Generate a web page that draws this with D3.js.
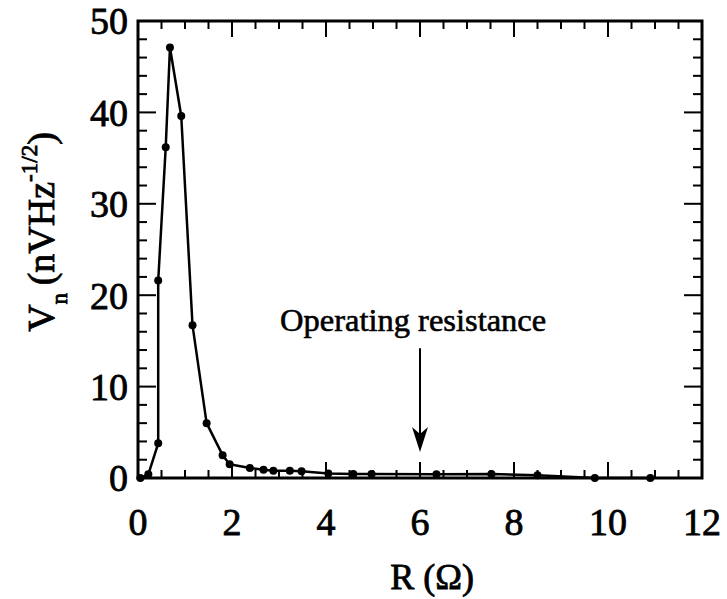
<!DOCTYPE html>
<html>
<head>
<meta charset="utf-8">
<script src="https://cdn.jsdelivr.net/npm/d3@7"></script>
<style>
  html, body { margin: 0; padding: 0; background: #fff; }
  svg { display: block; }
  text { font-family: "Liberation Serif", "Times New Roman", serif; fill: #000; }
</style>
</head>
<body>
<svg id="chart" width="727" height="599"></svg>
<script>
// ---- data ----
const resistance = [0.05, 0.22, 0.43, 0.43, 0.59, 0.68, 0.92, 1.16, 1.46, 1.80, 1.95, 2.38, 2.67, 2.88, 3.23, 3.48, 4.05, 4.58, 4.97, 6.35, 7.52, 8.5, 9.72, 10.9];
const noise      = [0.0, 0.4, 3.8, 21.6, 36.2, 47.1, 39.6, 16.7, 6.0, 2.5, 1.5, 1.1, 0.9, 0.8, 0.8, 0.75, 0.5, 0.45, 0.45, 0.4, 0.45, 0.3, 0.0, 0.0];
const xTickLabels = [0, 2, 4, 6, 8, 10, 12];
const yTickLabels = [0, 10, 20, 30, 40, 50];
const xMinorTicks = d3.range(0, 12.01, 0.5);
const yMinorTicks = d3.range(0, 50.01, 2);
const operatingR = 6;
const annotation = "Operating resistance";

// ---- layout ----
const svg = d3.select("#chart");
const m = { left: 138, top: 21, right: 702, bottom: 478 };
const x = d3.scaleLinear().domain([0, 12]).range([m.left, m.right]);
const y = d3.scaleLinear().domain([0, 50]).range([m.bottom, m.top]);

const isMajorX = v => Math.abs(v / 2 - Math.round(v / 2)) < 1e-6;
const isMajorY = v => Math.abs(v / 10 - Math.round(v / 10)) < 1e-6;

// ticks (inward, all four sides)
const tickG = svg.append("g").attr("stroke", "#000").attr("stroke-width", 2);
xMinorTicks.forEach(v => {
  const L = isMajorX(v) ? 16 : 8;
  tickG.append("line").attr("x1", x(v)).attr("x2", x(v)).attr("y1", m.bottom).attr("y2", m.bottom - L);
  tickG.append("line").attr("x1", x(v)).attr("x2", x(v)).attr("y1", m.top).attr("y2", m.top + L);
});
yMinorTicks.forEach(v => {
  const L = isMajorY(v) ? 18 : 9;
  tickG.append("line").attr("y1", y(v)).attr("y2", y(v)).attr("x1", m.left).attr("x2", m.left + L);
  tickG.append("line").attr("y1", y(v)).attr("y2", y(v)).attr("x1", m.right).attr("x2", m.right - L);
});

// frame
svg.append("rect")
  .attr("x", m.left).attr("y", m.top)
  .attr("width", m.right - m.left).attr("height", m.bottom - m.top)
  .attr("fill", "none").attr("stroke", "#000").attr("stroke-width", 3);

// tick labels
const labelStyle = (sel, fs) => sel.attr("font-size", fs).attr("stroke", "#000").attr("stroke-width", 0.8);
svg.append("g").selectAll("text").data(xTickLabels).join("text")
  .attr("x", d => x(d)).attr("y", 535).attr("text-anchor", "middle")
  .text(d => d).call(labelStyle, 38);
svg.append("g").selectAll("text").data(yTickLabels).join("text")
  .attr("x", 128).attr("y", d => y(d)).attr("dy", "0.35em").attr("text-anchor", "end")
  .text(d => d).call(labelStyle, 38);

// axis titles
svg.append("text").attr("x", 432).attr("y", 589).attr("text-anchor", "middle")
  .text("R (Ω)").call(labelStyle, 36);

const yt = svg.append("text")
  .attr("transform", "translate(54,232) rotate(-90)")
  .attr("text-anchor", "middle").call(labelStyle, 38);
yt.append("tspan").text("V");
yt.append("tspan").attr("font-size", 23).attr("dy", 13).text("n");
yt.append("tspan").attr("dy", -13).text("\u2009(nVHz");
yt.append("tspan").attr("font-size", 23).attr("dy", -17).text("-1/2");
yt.append("tspan").attr("dy", 17).text(")");

// data line & markers
const pts = resistance.map((r, i) => [r, noise[i]]);
svg.append("path").datum(pts)
  .attr("fill", "none").attr("stroke", "#000").attr("stroke-width", 2.5)
  .attr("stroke-linejoin", "round")
  .attr("d", d3.line().x(d => x(d[0])).y(d => y(d[1])));
svg.append("g").selectAll("circle").data(pts).join("circle")
  .attr("cx", d => x(d[0])).attr("cy", d => y(d[1])).attr("r", 4).attr("fill", "#000");

// annotation arrow
const ax = x(operatingR);
svg.append("line").attr("x1", ax).attr("x2", ax).attr("y1", y(14.2)).attr("y2", y(4.5))
  .attr("stroke", "#000").attr("stroke-width", 2);
const tipY = y(2.85);
svg.append("path")
  .attr("d", `M${ax},${tipY} L${ax - 8},${tipY - 25} L${ax},${tipY - 18} L${ax + 8},${tipY - 25} Z`)
  .attr("fill", "#000");
svg.append("text").attr("x", 280).attr("y", 331).attr("font-size", 32.5)
  .attr("stroke", "#000").attr("stroke-width", 0.6)
  .text(annotation);
</script>
</body>
</html>
